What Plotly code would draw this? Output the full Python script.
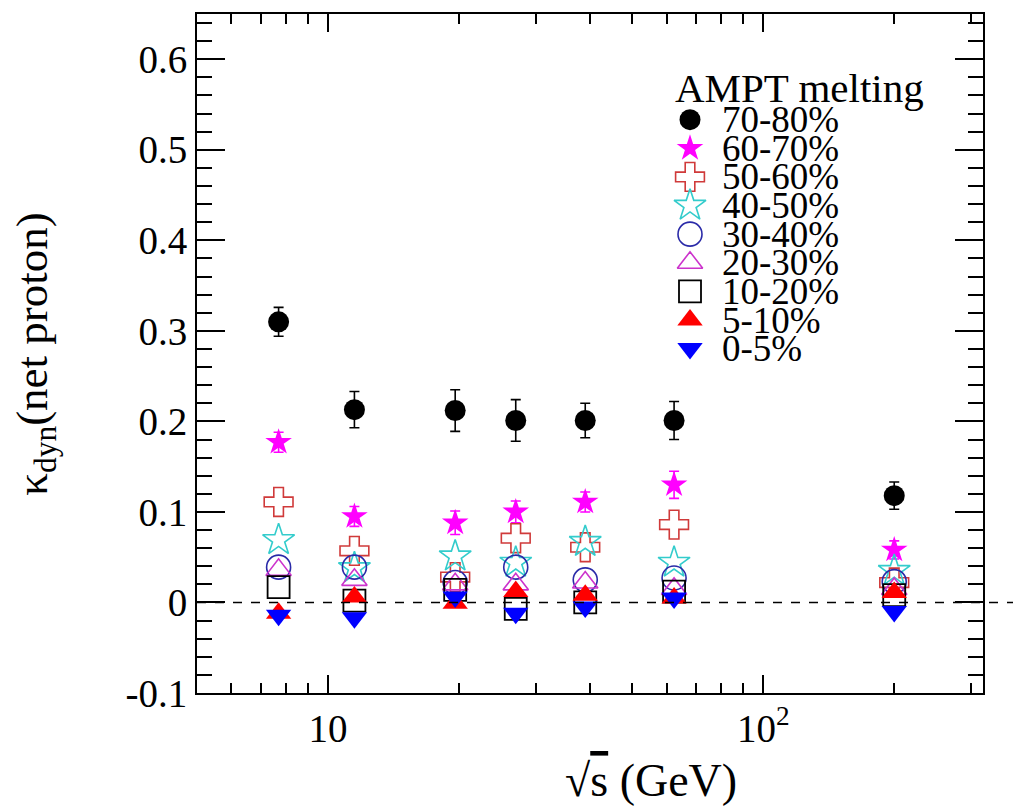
import plotly.graph_objects as go

# ---------------- data ----------------
energies = [7.7, 11.5, 19.6, 27, 39, 62.4, 200]

labels = ["70-80%", "60-70%", "50-60%", "40-50%", "30-40%",
          "20-30%", "10-20%", "5-10%", "0-5%"]

k_70_80 = [0.310, 0.213, 0.212, 0.201, 0.201, 0.201, 0.118]
e_70_80 = [0.016, 0.020, 0.023, 0.023, 0.019, 0.021, 0.015]
k_60_70 = [0.177, 0.095, 0.088, 0.100, 0.111, 0.130, 0.058]
e_60_70 = [0.011, 0.011, 0.013, 0.012, 0.011, 0.015, 0.010]
k_50_60 = [0.111, 0.057, 0.028, 0.071, 0.061, 0.086, 0.022]
k_40_50 = [0.069, 0.038, 0.051, 0.044, 0.067, 0.044, 0.035]
k_30_40 = [0.039, 0.039, 0.022, 0.039, 0.025, 0.027, 0.023]
k_20_30 = [0.036, 0.025, 0.020, 0.020, 0.022, 0.015, 0.015]
k_10_20 = [0.017, 0.002, 0.014, -0.007, 0.000, 0.012, 0.008]
k_5_10 = [-0.012, 0.006, -0.001, 0.012, 0.008, 0.005, 0.011]
k_0_5 = [-0.014, -0.017, 0.006, -0.012, -0.005, 0.005, -0.010]

series_values = [k_70_80, k_60_70, k_50_60, k_40_50, k_30_40,
                 k_20_30, k_10_20, k_5_10, k_0_5]
series_errors = [e_70_80, e_60_70, None, None, None, None, None, None, None]

y_tickvals = [-0.1, 0, 0.1, 0.2, 0.3, 0.4, 0.5, 0.6]
y_ticktext = ["-0.1", "0", "0.1", "0.2", "0.3", "0.4", "0.5", "0.6"]
x_tickvals = [10, 100]
x_ticktext = ["10", "10<sup>2</sup>"]
x_minorvals = [6, 7, 8, 9, 20, 30, 40, 50, 60, 70, 80, 90, 200, 300]

# ---------------- styles ----------------
styles = [
    dict(symbol="circle", color="black", size=21, line=dict(width=0)),
    dict(symbol="star", color="#ff00ff", size=20, line=dict(width=0)),
    dict(symbol="cross-open", color="#d03a3a", size=24, line=dict(width=1.6, color="#d03a3a")),
    dict(symbol="star-open", color="#33cccc", size=24, line=dict(width=1.6, color="#33cccc")),
    dict(symbol="circle-open", color="#2a2aa8", size=24, line=dict(width=1.6, color="#2a2aa8")),
    dict(symbol="triangle-up-open", color="#cc33cc", size=22, line=dict(width=1.6, color="#cc33cc")),
    dict(symbol="square-open", color="black", size=22, line=dict(width=1.8, color="black")),
    dict(symbol="triangle-up", color="#ff0000", size=22, line=dict(width=0)),
    dict(symbol="triangle-down", color="#0000ff", size=22, line=dict(width=0)),
]
err_colors = ["black", "#ff00ff"]

FONT = "Liberation Serif"

fig = go.Figure()

for i, (lab, vals, errs, st) in enumerate(zip(labels, series_values, series_errors, styles)):
    tr = dict(x=energies, y=vals, mode="markers", name=lab, marker=st,
              showlegend=False, xaxis="x", yaxis="y")
    if errs is not None:
        tr["error_y"] = dict(type="data", array=errs, visible=True,
                             color=err_colors[i], thickness=1.6, width=5)
    fig.add_trace(go.Scatter(**tr))

# ---------------- manual legend (overlay pixel-like axes) ----------------
leg_x_marker = 493
leg_x_text = 523
leg_y0 = 106
leg_dy = 28.7
for i, (lab, st) in enumerate(zip(labels, styles)):
    yy = leg_y0 + leg_dy * i
    fig.add_trace(go.Scatter(x=[leg_x_marker], y=[yy], mode="markers", marker=st,
                             showlegend=False, xaxis="x2", yaxis="y2", hoverinfo="skip"))
    fig.add_annotation(x=leg_x_text, y=yy, xref="x2", yref="y2", text=lab,
                       showarrow=False, xanchor="left", yanchor="middle",
                       font=dict(family=FONT, size=37, color="black"))

fig.add_annotation(x=476, y=74, xref="x2", yref="y2", text="AMPT melting",
                   showarrow=False, xanchor="left", yanchor="middle",
                   font=dict(family=FONT, size=41, color="black"))

# ---------------- zero dashed line ----------------
fig.add_shape(type="line", xref="paper", yref="y", x0=0, x1=1.04, y0=0, y1=0,
              line=dict(color="black", width=1.5, dash="dash"))

# ---------------- axes titles ----------------
fig.add_annotation(x=0.578, y=-0.088, xref="paper", yref="paper",
                   text="\u221a<span style='text-decoration:overline'>s</span> (GeV)",
                   showarrow=False, xanchor="center", yanchor="top",
                   font=dict(family=FONT, size=46, color="black"))
fig.add_annotation(x=-0.207, y=0.5, xref="paper", yref="paper",
                   text="\u03ba<sub>dyn</sub>(net proton)", textangle=-90,
                   showarrow=False, xanchor="center", yanchor="middle",
                   font=dict(family=FONT, size=45, color="black"))

fig.update_layout(
    width=1013, height=807,
    margin=dict(l=197, r=30, t=12, b=114),
    paper_bgcolor="white", plot_bgcolor="white",
    font=dict(family=FONT, color="black"),
    xaxis=dict(type="log", range=[0.699, 2.505],
               tickmode="array", tickvals=x_tickvals, ticktext=x_ticktext,
               ticks="inside", ticklen=18, tickwidth=1.5, tickcolor="black",
               minor=dict(tickmode="array", tickvals=x_minorvals, ticks="inside",
                          ticklen=10, tickwidth=1.5, tickcolor="black", showgrid=False),
               showline=True, linewidth=2, linecolor="black", mirror="ticks",
               showgrid=False, zeroline=False,
               tickfont=dict(family=FONT, size=39, color="black")),
    yaxis=dict(range=[-0.1, 0.65],
               tickmode="array", tickvals=y_tickvals, ticktext=y_ticktext,
               ticks="inside", ticklen=28, tickwidth=1.5, tickcolor="black",
               minor=dict(dtick=0.02, tick0=0, ticks="inside", ticklen=15,
                          tickwidth=1.5, tickcolor="black", showgrid=False),
               showline=True, linewidth=2, linecolor="black", mirror="ticks",
               showgrid=False, zeroline=False,
               tickfont=dict(family=FONT, size=39, color="black")),
    xaxis2=dict(range=[0, 786], overlaying="x", visible=False, anchor="y2"),
    yaxis2=dict(range=[681, 0], overlaying="y", visible=False, anchor="x2"),
)

fig.write_html("out.html", config={"displayModeBar": False},
               post_script="document.body.style.margin='0';")
